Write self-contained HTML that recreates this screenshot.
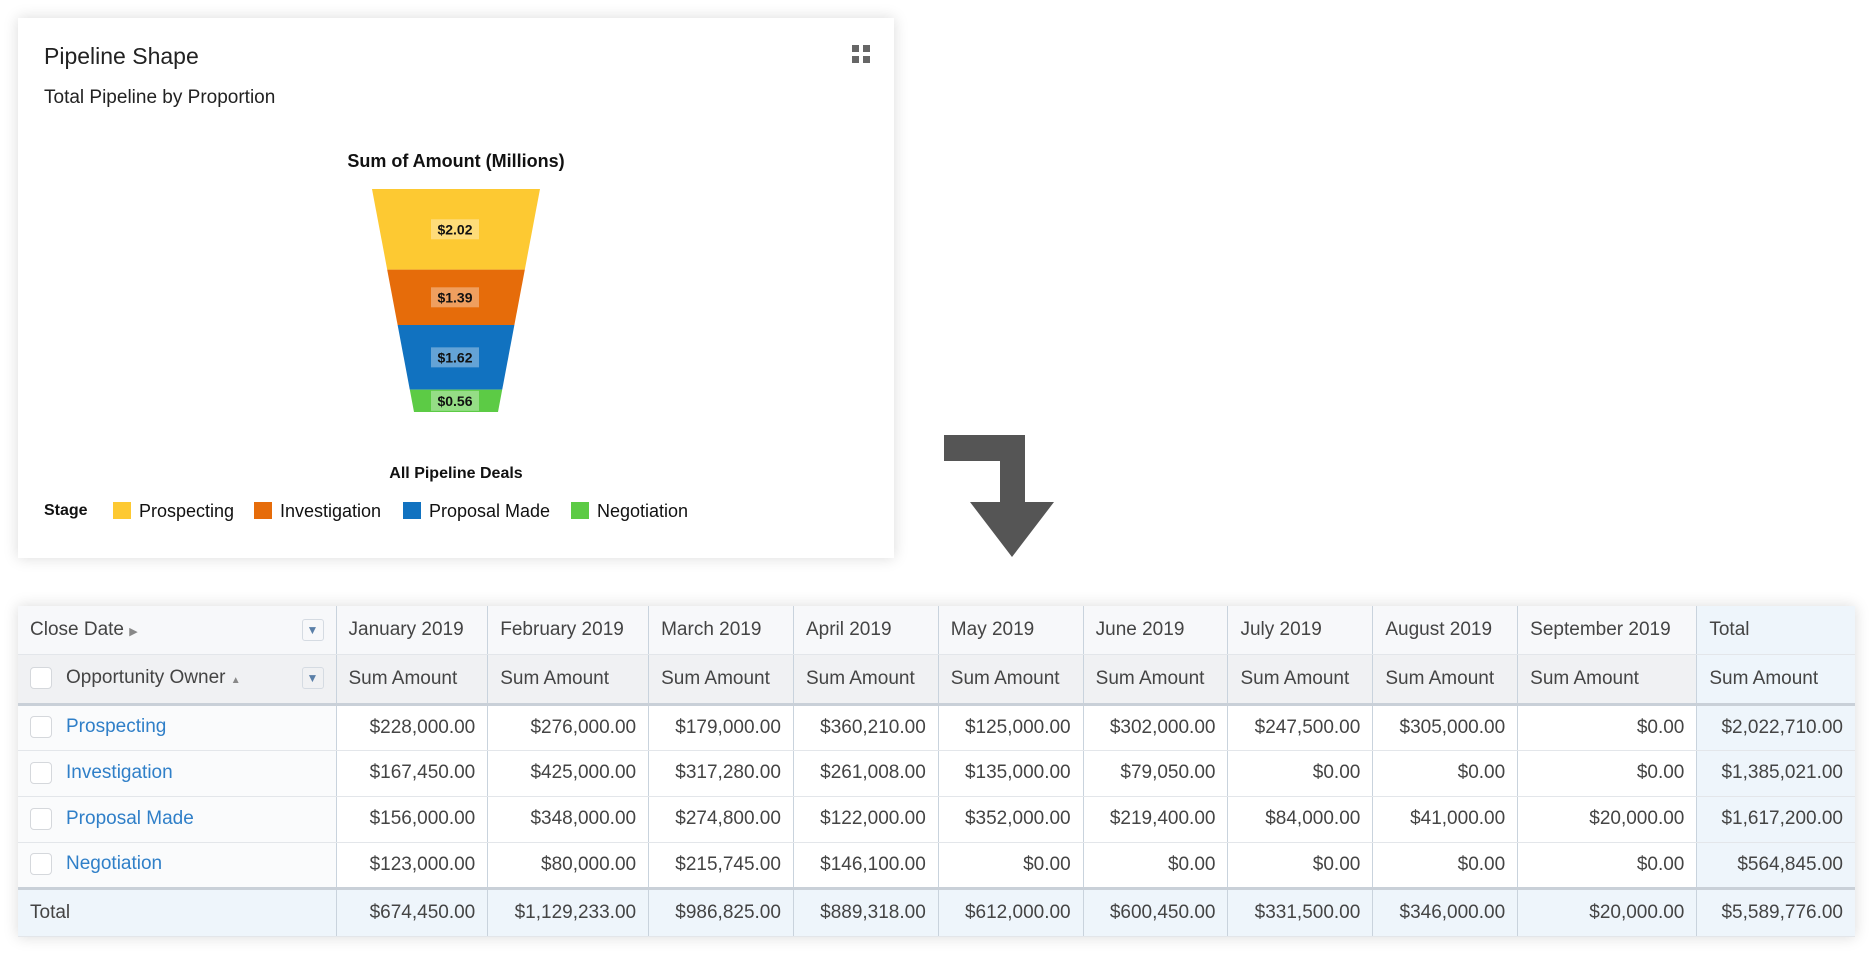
<!DOCTYPE html>
<html><head><meta charset="utf-8"><style>
*{box-sizing:border-box;margin:0;padding:0}
body{width:1870px;height:957px;background:#fff;font-family:"Liberation Sans",sans-serif;position:relative;overflow:hidden}
.card{position:absolute;left:18px;top:18px;width:876px;height:540px;background:#fff;box-shadow:0 0 14px rgba(0,0,0,.15)}
.abs{position:absolute}
table{position:absolute;left:18px;top:606px;width:1837px;border-collapse:collapse;box-shadow:0 0 14px rgba(0,0,0,.15);font-size:19px;color:#444}
td{border-left:1.5px solid #c9d3dd;border-bottom:1.5px solid #e3e6ea;padding:0 12px;white-space:nowrap}
td:first-child{border-left:none}
.h1 td{height:48px;background:#f7f8fa}
.h2 td{height:50px;background:#f0f1f3;border-bottom:3px solid #c9d0d8}
.r td{height:46px;text-align:right;background:#fff}
.r td:first-child{text-align:left;color:#2f7fc8;background:#fafbfc}
.r td.t,.h1 td.t,.h2 td.t{background:#eef5fb}
.tot td{height:48px;text-align:right;background:#eef5fb;border-top:3px solid #c9d0d8}
.tot td:first-child{text-align:left}
.cb{display:inline-block;width:22px;height:22px;border:1.5px solid #d5d8dc;border-radius:4px;background:#fff;vertical-align:middle;margin-right:14px}
.dd{float:right;width:22px;height:22px;border:1px solid #d5dbe2;border-radius:3px;color:#5a7fa8;font-size:12px;text-align:center;line-height:21px}
</style></head><body>
<div class="card">
  <div class="abs" style="left:26px;top:25px;font-size:23px;color:#222">Pipeline Shape</div>
  <div class="abs" style="left:26px;top:69px;font-size:19px;color:#222">Total Pipeline by Proportion</div>
  <div class="abs" style="left:834px;top:27px;width:18px;height:18px">
    <svg width="18" height="18"><g fill="#666"><rect x="0" y="0" width="7" height="7"/><rect x="11" y="0" width="7" height="7"/><rect x="0" y="11" width="7" height="7"/><rect x="11" y="11" width="7" height="7"/></g></svg>
  </div>
</div>
<svg id="funnel" class="abs" style="left:0;top:0" width="900" height="560">
  <text x="456" y="167" text-anchor="middle" font-size="18" font-weight="bold" fill="#111">Sum of Amount (Millions)</text>
  <text x="456" y="478" text-anchor="middle" font-size="16" font-weight="bold" fill="#111">All Pipeline Deals</text>
  <g id="fg"></g>
  <text x="44" y="515" font-size="16" font-weight="bold" fill="#111">Stage</text>
  <g id="lg"></g>
</svg>
<svg class="abs" style="left:0;top:0" width="1870" height="600">
  <polygon points="944,435 1025,435 1025,502 1054,502 1012,557 970,502 1000,502 1000,461 944,461" fill="#555"/>
</svg>
<table>
<tr class="h1">
  <td style="width:318px">Close Date <span style="font-size:11px;color:#888">&#9654;</span><span class="dd">&#9660;</span></td>
  <td>January 2019</td><td>February 2019</td><td>March 2019</td><td>April 2019</td><td>May 2019</td><td>June 2019</td><td>July 2019</td><td>August 2019</td><td>September 2019</td><td class="t">Total</td>
</tr>
<tr class="h2">
  <td><span class="cb"></span>Opportunity Owner <span style="font-size:10px;color:#888">&#9650;</span><span class="dd">&#9660;</span></td>
  <td>Sum Amount</td><td>Sum Amount</td><td>Sum Amount</td><td>Sum Amount</td><td>Sum Amount</td><td>Sum Amount</td><td>Sum Amount</td><td>Sum Amount</td><td>Sum Amount</td><td class="t">Sum Amount</td>
</tr>
<tr class="r"><td><span class="cb"></span>Prospecting</td><td>$228,000.00</td><td>$276,000.00</td><td>$179,000.00</td><td>$360,210.00</td><td>$125,000.00</td><td>$302,000.00</td><td>$247,500.00</td><td>$305,000.00</td><td>$0.00</td><td class="t">$2,022,710.00</td></tr>
<tr class="r"><td><span class="cb"></span>Investigation</td><td>$167,450.00</td><td>$425,000.00</td><td>$317,280.00</td><td>$261,008.00</td><td>$135,000.00</td><td>$79,050.00</td><td>$0.00</td><td>$0.00</td><td>$0.00</td><td class="t">$1,385,021.00</td></tr>
<tr class="r"><td><span class="cb"></span>Proposal Made</td><td>$156,000.00</td><td>$348,000.00</td><td>$274,800.00</td><td>$122,000.00</td><td>$352,000.00</td><td>$219,400.00</td><td>$84,000.00</td><td>$41,000.00</td><td>$20,000.00</td><td class="t">$1,617,200.00</td></tr>
<tr class="r"><td><span class="cb"></span>Negotiation</td><td>$123,000.00</td><td>$80,000.00</td><td>$215,745.00</td><td>$146,100.00</td><td>$0.00</td><td>$0.00</td><td>$0.00</td><td>$0.00</td><td>$0.00</td><td class="t">$564,845.00</td></tr>
<tr class="tot"><td>Total</td><td>$674,450.00</td><td>$1,129,233.00</td><td>$986,825.00</td><td>$889,318.00</td><td>$612,000.00</td><td>$600,450.00</td><td>$331,500.00</td><td>$346,000.00</td><td>$20,000.00</td><td>$5,589,776.00</td></tr>
</table>
<script>
const stages=["Prospecting","Investigation","Proposal Made","Negotiation"];
const values=[2.02,1.39,1.62,0.56];
const colors=["#fdc932","#e66c0a","#1172c0","#5ccb45"];
const NS="http://www.w3.org/2000/svg";
const top0=189,bot=412,cx=456,wTop=168,wBot=84;
const total=values.reduce((a,b)=>a+b,0);
const yScale=v=>v/total*(bot-top0);
const halfW=y=>(wTop+(wBot-wTop)*(y-top0)/(bot-top0))/2;
const fg=document.getElementById('fg');
let y=top0;
values.forEach((v,i)=>{
  const y2=y+yScale(v);
  const p=document.createElementNS(NS,'polygon');
  p.setAttribute('points',`${cx-halfW(y)},${y} ${cx+halfW(y)},${y} ${cx+halfW(y2)},${y2} ${cx-halfW(y2)},${y2}`);
  p.setAttribute('fill',colors[i]);
  
  
  fg.appendChild(p);
  const m=(y+y2)/2;
  const r=document.createElementNS(NS,'rect');
  r.setAttribute('x',cx-25);r.setAttribute('y',m-10);r.setAttribute('width',48);r.setAttribute('height',20);
  r.setAttribute('fill','rgba(255,255,255,0.35)');
  
  
  fg.appendChild(r);
  const t=document.createElementNS(NS,'text');
  t.setAttribute('x',cx-1);t.setAttribute('y',m+5);t.setAttribute('text-anchor','middle');
  t.setAttribute('font-size','14');t.setAttribute('font-weight','bold');t.setAttribute('fill','#111');
  t.textContent='$'+v.toFixed(2);
  
  
  fg.appendChild(t);
  y=y2;
});
const lg=document.getElementById('lg');
const lx=[113,254,403,571];
stages.forEach((s,i)=>{
  const r=document.createElementNS(NS,'rect');
  r.setAttribute('x',lx[i]);r.setAttribute('y',502);r.setAttribute('width',18);r.setAttribute('height',17);r.setAttribute('fill',colors[i]);
  
  
  lg.appendChild(r);
  const t=document.createElementNS(NS,'text');
  t.setAttribute('x',lx[i]+26);t.setAttribute('y',517);t.setAttribute('font-size','18');t.setAttribute('fill','#111');
  t.textContent=s;
  
  
  lg.appendChild(t);
});
</script>
</body></html>
